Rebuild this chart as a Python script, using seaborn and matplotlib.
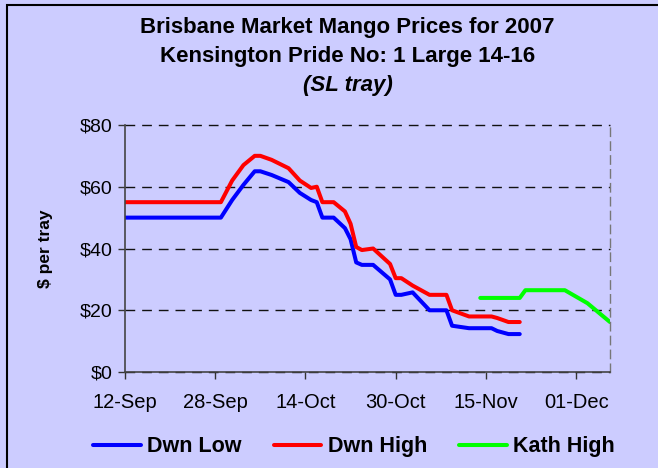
import pandas as pd
import seaborn as sns
import matplotlib.pyplot as plt
import matplotlib.dates as mdates
from matplotlib.patches import Rectangle
from matplotlib.ticker import FuncFormatter, MultipleLocator

# Dwn Low (blue)
low_dates = ['2007-09-12', '2007-09-29', '2007-10-01', '2007-10-03', '2007-10-05',
             '2007-10-06', '2007-10-08', '2007-10-11', '2007-10-13', '2007-10-15',
             '2007-10-16', '2007-10-17', '2007-10-19', '2007-10-21', '2007-10-22',
             '2007-10-23', '2007-10-24', '2007-10-26', '2007-10-29', '2007-10-30',
             '2007-10-31', '2007-11-02', '2007-11-05', '2007-11-08', '2007-11-09',
             '2007-11-12', '2007-11-16', '2007-11-17', '2007-11-19', '2007-11-21']
low_prices = [50, 50, 55.7, 60.6, 65, 65, 63.8, 61.5, 58, 55.7,
              55, 50, 50, 46.6, 43, 35.5, 34.7, 34.7, 30, 25,
              25, 25.8, 20, 20, 15, 14.2, 14.2, 13.3, 12.3, 12.3]

# Dwn High (red)
high_dates = ['2007-09-12', '2007-09-29', '2007-10-01', '2007-10-03', '2007-10-05',
              '2007-10-06', '2007-10-08', '2007-10-11', '2007-10-13', '2007-10-15',
              '2007-10-16', '2007-10-17', '2007-10-19', '2007-10-21', '2007-10-22',
              '2007-10-23', '2007-10-24', '2007-10-26', '2007-10-29', '2007-10-30',
              '2007-10-31', '2007-11-02', '2007-11-05', '2007-11-08', '2007-11-09',
              '2007-11-12', '2007-11-16', '2007-11-17', '2007-11-19', '2007-11-21']
high_prices = [55, 55, 62, 67, 70, 70, 68.7, 66, 62, 59.6,
               60, 55, 55, 52, 48, 40.5, 39.5, 40, 35, 30.4,
               30.4, 28, 25, 25, 20, 18, 18, 17.5, 16.2, 16.2]

# Kath High (green)
kath_dates = ['2007-11-14', '2007-11-21', '2007-11-22', '2007-11-29', '2007-12-03', '2007-12-07']
kath_prices = [24, 24, 26.5, 26.5, 22.3, 16.2]

series_names = ['Dwn Low', 'Dwn High', 'Kath High']
series_colors = ['#0000FF', '#FF0000', '#00FF00']
tick_dates = ['2007-09-12', '2007-09-28', '2007-10-14', '2007-10-30', '2007-11-15', '2007-12-01']

bg = '#CCCCFF'


def build_frame():
    parts = []
    for name, d, p in zip(series_names,
                          [low_dates, high_dates, kath_dates],
                          [low_prices, high_prices, kath_prices]):
        parts.append(pd.DataFrame({'Date': pd.to_datetime(d), 'Price': p, 'Series': name}))
    return pd.concat(parts, ignore_index=True)


def make_chart():
    df = build_frame()

    sns.set_theme(style='white', rc={'text.color': 'black', 'axes.labelcolor': 'black'})
    plt.rcParams['font.family'] = ['Liberation Sans', 'DejaVu Sans']

    fig = plt.figure(figsize=(6.58, 4.68), dpi=100, facecolor=bg)
    ax = fig.add_axes([0.19, 0.205, 0.737, 0.528])
    ax.set_facecolor(bg)

    sns.lineplot(data=df, x='Date', y='Price', hue='Series', hue_order=series_names,
                 palette=dict(zip(series_names, series_colors)), estimator=None,
                 linewidth=2.9, ax=ax, legend=False)

    ax.set_ylim(0, 80)
    ax.set_xlim(pd.Timestamp('2007-09-12'), pd.Timestamp('2007-12-07'))
    ax.yaxis.set_major_locator(MultipleLocator(20))
    ax.yaxis.set_major_formatter(FuncFormatter(lambda v, _: f'${v:.0f}'))
    ax.set_xticks(pd.to_datetime(tick_dates))
    ax.xaxis.set_major_formatter(mdates.DateFormatter('%d-%b'))

    ax.tick_params(axis='y', direction='out', length=5, width=1, colors='#333333',
                   labelcolor='black', labelsize=14, left=True, pad=4)
    ax.tick_params(axis='x', direction='out', length=5, width=1, colors='#333333',
                   labelcolor='black', labelsize=14.5, bottom=True, pad=10)

    ax.set_xlabel('')
    ax.set_ylabel('$ per tray', fontsize=12.5, fontweight='bold', labelpad=19)

    ax.yaxis.grid(True, color='#111111', linestyle=(0, (7, 5)), linewidth=1)
    for gl in ax.get_ygridlines():
        gl.set_clip_on(False)

    for side in ['left', 'bottom']:
        ax.spines[side].set_color('#444444')
        ax.spines[side].set_linewidth(1.2)
    ax.spines['top'].set_visible(False)
    ax.spines['right'].set_color('#777777')
    ax.spines['right'].set_linestyle((0, (6, 4)))
    ax.spines['right'].set_linewidth(1)

    # Title lines
    title_kw = dict(ha='center', va='center', fontsize=16, fontweight='bold')
    fig.text(0.528, 0.942, 'Brisbane Market Mango Prices for 2007', **title_kw)
    fig.text(0.528, 0.880, 'Kensington Pride No: 1 Large 14-16', **title_kw)
    fig.text(0.528, 0.818, '(SL tray)', style='italic', **title_kw)

    handles = [plt.Line2D([], [], color=c, linewidth=2.9) for c in series_colors]
    fig.legend(handles, series_names, loc='center', bbox_to_anchor=(0.538, 0.045), ncol=3,
               frameon=False, prop={'weight': 'bold', 'size': 15.5},
               handlelength=2.2, handletextpad=0.3, columnspacing=1.5)

    # Frame of the chart area (left and top visible)
    fig.patches.append(Rectangle((0.011, -0.1), 2, 1.089, transform=fig.transFigure,
                                 fill=False, edgecolor='black', linewidth=1.5))

    fig.savefig('out.png', dpi=100, facecolor=bg)


if __name__ == '__main__':
    make_chart()
